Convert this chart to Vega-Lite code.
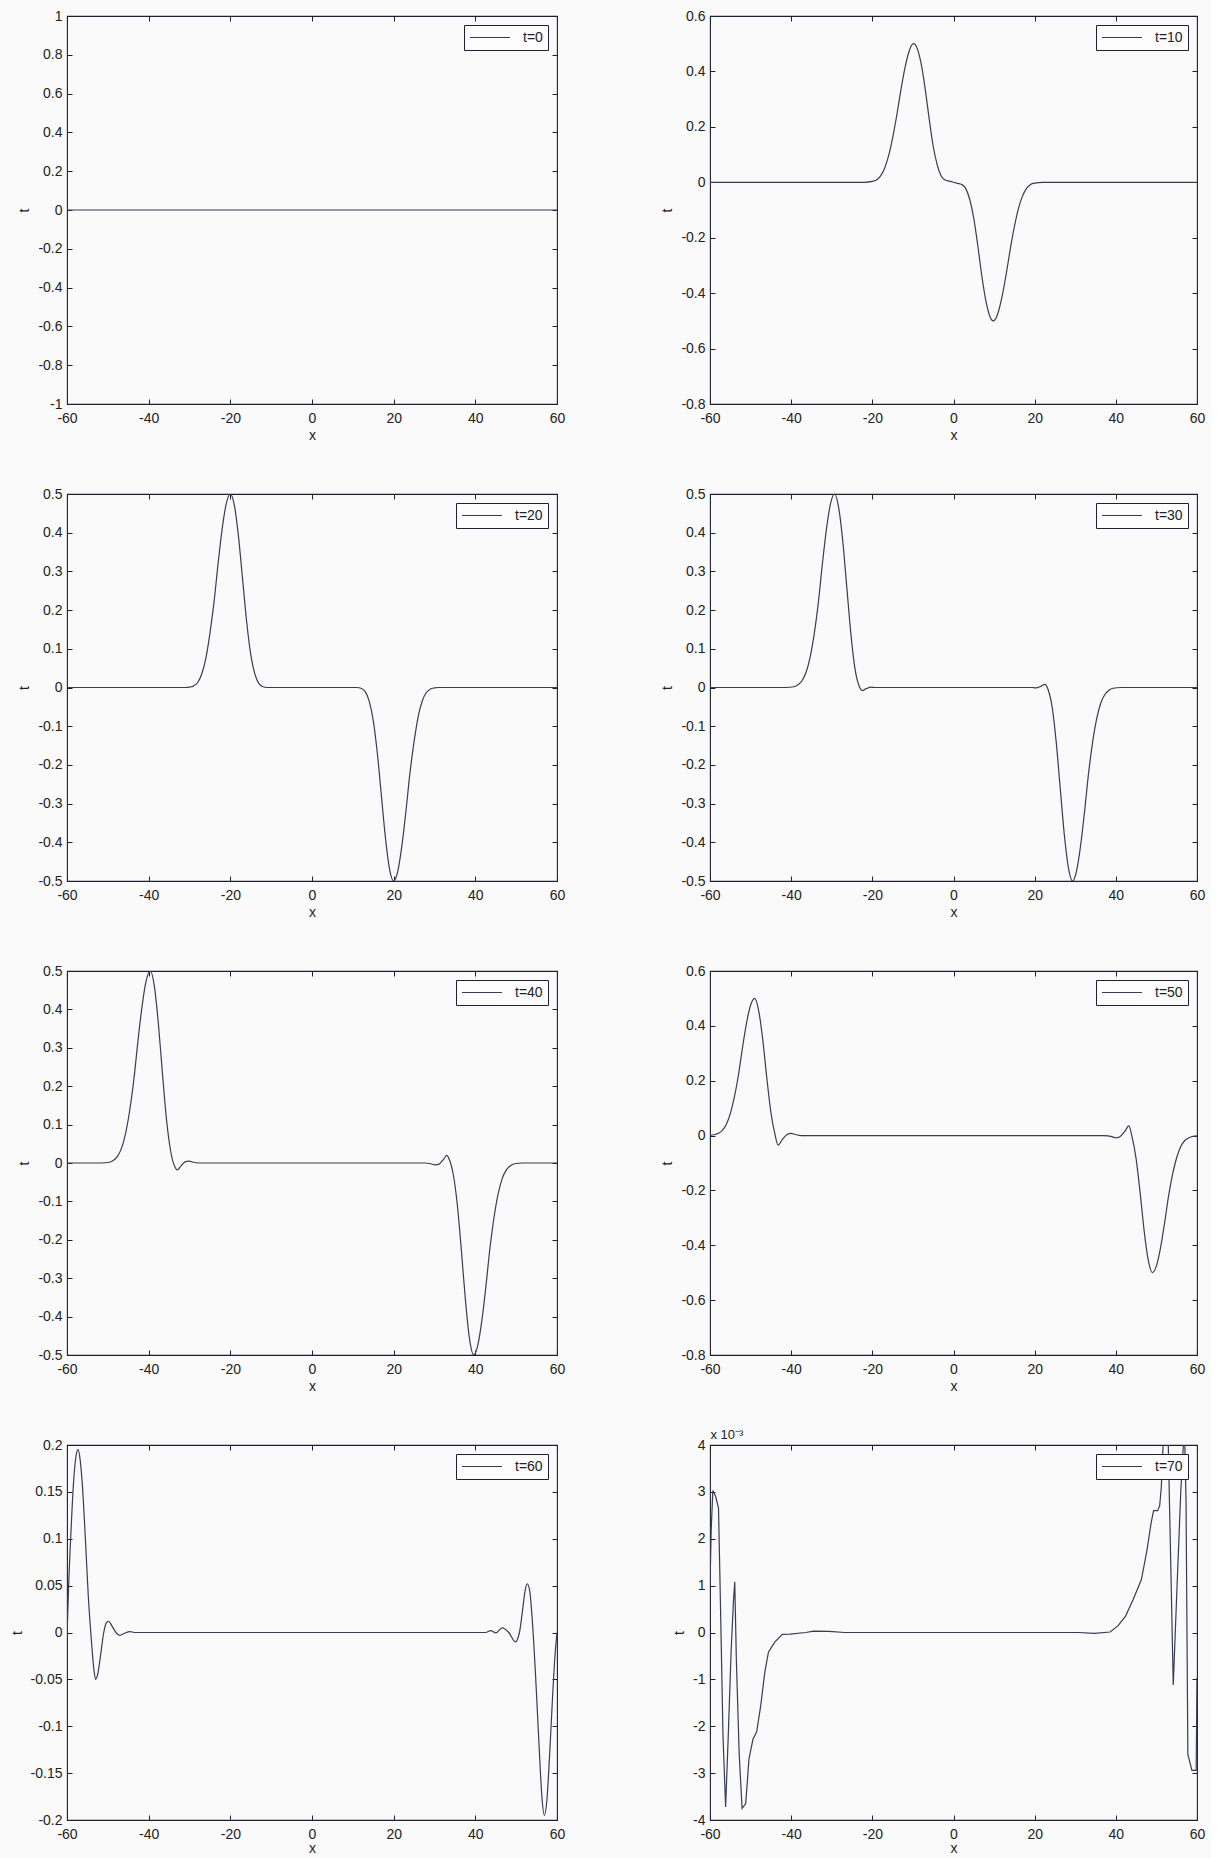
{
  "$schema": "https://vega.github.io/schema/vega-lite/v6.json",
  "background": "#fafafa",
  "padding": {"left": 9, "top": 8, "right": 5, "bottom": 2},
  "columns": 2,
  "spacing": {"row": 90, "column": 153},
  "bounds": "flush",
  "resolve": {"scale": {"color": "independent"}, "legend": {"color": "independent"}},
  "data": {"values": [
    {"p":"t=0","x":-60,"y":0},{"p":"t=0","x":0,"y":0},{"p":"t=0","x":60,"y":0},

    {"p":"t=10","x":-60,"y":0},{"p":"t=10","x":-22,"y":0},{"p":"t=10","x":-20,"y":0.003},{"p":"t=10","x":-19,"y":0.008},{"p":"t=10","x":-18,"y":0.022},{"p":"t=10","x":-17,"y":0.05},{"p":"t=10","x":-16,"y":0.095},{"p":"t=10","x":-15,"y":0.16},{"p":"t=10","x":-14,"y":0.24},{"p":"t=10","x":-13,"y":0.33},{"p":"t=10","x":-12,"y":0.41},{"p":"t=10","x":-11,"y":0.47},{"p":"t=10","x":-10.5,"y":0.49},{"p":"t=10","x":-9.8,"y":0.5},{"p":"t=10","x":-9,"y":0.485},{"p":"t=10","x":-8,"y":0.43},{"p":"t=10","x":-7,"y":0.34},{"p":"t=10","x":-6,"y":0.23},{"p":"t=10","x":-5,"y":0.13},{"p":"t=10","x":-4,"y":0.062},{"p":"t=10","x":-3,"y":0.022},{"p":"t=10","x":-2,"y":0.008},{"p":"t=10","x":-1,"y":0.004},{"p":"t=10","x":0,"y":0},{"p":"t=10","x":1,"y":-0.004},{"p":"t=10","x":2,"y":-0.008},{"p":"t=10","x":3,"y":-0.022},{"p":"t=10","x":4,"y":-0.062},{"p":"t=10","x":5,"y":-0.13},{"p":"t=10","x":6,"y":-0.23},{"p":"t=10","x":7,"y":-0.34},{"p":"t=10","x":8,"y":-0.43},{"p":"t=10","x":9,"y":-0.485},{"p":"t=10","x":9.8,"y":-0.5},{"p":"t=10","x":10.5,"y":-0.49},{"p":"t=10","x":11,"y":-0.47},{"p":"t=10","x":12,"y":-0.41},{"p":"t=10","x":13,"y":-0.33},{"p":"t=10","x":14,"y":-0.24},{"p":"t=10","x":15,"y":-0.16},{"p":"t=10","x":16,"y":-0.095},{"p":"t=10","x":17,"y":-0.05},{"p":"t=10","x":18,"y":-0.022},{"p":"t=10","x":19,"y":-0.008},{"p":"t=10","x":20,"y":-0.003},{"p":"t=10","x":22,"y":0},{"p":"t=10","x":60,"y":0},

    {"p":"t=20","x":-60,"y":0},{"p":"t=20","x":-31,"y":0},{"p":"t=20","x":-30,"y":0.001},{"p":"t=20","x":-29,"y":0.004},{"p":"t=20","x":-28,"y":0.013},{"p":"t=20","x":-27,"y":0.035},{"p":"t=20","x":-26,"y":0.075},{"p":"t=20","x":-25,"y":0.14},{"p":"t=20","x":-24,"y":0.22},{"p":"t=20","x":-23,"y":0.32},{"p":"t=20","x":-22,"y":0.41},{"p":"t=20","x":-21,"y":0.475},{"p":"t=20","x":-20,"y":0.5},{"p":"t=20","x":-19,"y":0.47},{"p":"t=20","x":-18,"y":0.39},{"p":"t=20","x":-17,"y":0.28},{"p":"t=20","x":-16,"y":0.17},{"p":"t=20","x":-15,"y":0.085},{"p":"t=20","x":-14,"y":0.035},{"p":"t=20","x":-13,"y":0.01},{"p":"t=20","x":-12,"y":0.002},{"p":"t=20","x":-11,"y":0},{"p":"t=20","x":11,"y":0},{"p":"t=20","x":12,"y":-0.002},{"p":"t=20","x":13,"y":-0.01},{"p":"t=20","x":14,"y":-0.035},{"p":"t=20","x":15,"y":-0.085},{"p":"t=20","x":16,"y":-0.17},{"p":"t=20","x":17,"y":-0.28},{"p":"t=20","x":18,"y":-0.39},{"p":"t=20","x":19,"y":-0.47},{"p":"t=20","x":20,"y":-0.5},{"p":"t=20","x":21,"y":-0.475},{"p":"t=20","x":22,"y":-0.41},{"p":"t=20","x":23,"y":-0.32},{"p":"t=20","x":24,"y":-0.22},{"p":"t=20","x":25,"y":-0.14},{"p":"t=20","x":26,"y":-0.075},{"p":"t=20","x":27,"y":-0.035},{"p":"t=20","x":28,"y":-0.013},{"p":"t=20","x":29,"y":-0.004},{"p":"t=20","x":30,"y":-0.001},{"p":"t=20","x":31,"y":0},{"p":"t=20","x":60,"y":0},

    {"p":"t=30","x":-60,"y":0},{"p":"t=30","x":-41.3,"y":0},{"p":"t=30","x":-39.3,"y":0.002},{"p":"t=30","x":-38.3,"y":0.007},{"p":"t=30","x":-37.3,"y":0.018},{"p":"t=30","x":-36.3,"y":0.04},{"p":"t=30","x":-35.3,"y":0.08},{"p":"t=30","x":-34.3,"y":0.14},{"p":"t=30","x":-33.3,"y":0.22},{"p":"t=30","x":-32.3,"y":0.32},{"p":"t=30","x":-31.3,"y":0.41},{"p":"t=30","x":-30.3,"y":0.475},{"p":"t=30","x":-29.3,"y":0.5},{"p":"t=30","x":-28.3,"y":0.465},{"p":"t=30","x":-27.3,"y":0.38},{"p":"t=30","x":-26.3,"y":0.26},{"p":"t=30","x":-25.3,"y":0.14},{"p":"t=30","x":-24.3,"y":0.05},{"p":"t=30","x":-23.3,"y":0.005},{"p":"t=30","x":-22.5,"y":-0.008},{"p":"t=30","x":-21.5,"y":-0.003},{"p":"t=30","x":-20.3,"y":0.001},{"p":"t=30","x":-19.3,"y":0},{"p":"t=30","x":19.3,"y":0},{"p":"t=30","x":20.3,"y":-0.001},{"p":"t=30","x":21.5,"y":0.003},{"p":"t=30","x":22.5,"y":0.008},{"p":"t=30","x":23.3,"y":-0.005},{"p":"t=30","x":24.3,"y":-0.05},{"p":"t=30","x":25.3,"y":-0.14},{"p":"t=30","x":26.3,"y":-0.26},{"p":"t=30","x":27.3,"y":-0.38},{"p":"t=30","x":28.3,"y":-0.465},{"p":"t=30","x":29.3,"y":-0.5},{"p":"t=30","x":30.3,"y":-0.475},{"p":"t=30","x":31.3,"y":-0.41},{"p":"t=30","x":32.3,"y":-0.32},{"p":"t=30","x":33.3,"y":-0.22},{"p":"t=30","x":34.3,"y":-0.14},{"p":"t=30","x":35.3,"y":-0.08},{"p":"t=30","x":36.3,"y":-0.04},{"p":"t=30","x":37.3,"y":-0.018},{"p":"t=30","x":38.3,"y":-0.007},{"p":"t=30","x":39.3,"y":-0.002},{"p":"t=30","x":41.3,"y":0},{"p":"t=30","x":60,"y":0},

    {"p":"t=40","x":-60,"y":0},{"p":"t=40","x":-51.6,"y":0},{"p":"t=40","x":-49.6,"y":0.002},{"p":"t=40","x":-48.6,"y":0.007},{"p":"t=40","x":-47.6,"y":0.018},{"p":"t=40","x":-46.6,"y":0.04},{"p":"t=40","x":-45.6,"y":0.08},{"p":"t=40","x":-44.6,"y":0.14},{"p":"t=40","x":-43.6,"y":0.22},{"p":"t=40","x":-42.6,"y":0.32},{"p":"t=40","x":-41.6,"y":0.41},{"p":"t=40","x":-40.6,"y":0.475},{"p":"t=40","x":-39.6,"y":0.5},{"p":"t=40","x":-38.6,"y":0.46},{"p":"t=40","x":-37.6,"y":0.36},{"p":"t=40","x":-36.6,"y":0.23},{"p":"t=40","x":-35.6,"y":0.11},{"p":"t=40","x":-34.6,"y":0.03},{"p":"t=40","x":-33.6,"y":-0.01},{"p":"t=40","x":-33,"y":-0.018},{"p":"t=40","x":-32.1,"y":-0.008},{"p":"t=40","x":-31.1,"y":0.003},{"p":"t=40","x":-30.1,"y":0.005},{"p":"t=40","x":-29.1,"y":0.002},{"p":"t=40","x":-27.6,"y":0},{"p":"t=40","x":27.6,"y":0},{"p":"t=40","x":29.1,"y":-0.002},{"p":"t=40","x":30.1,"y":-0.005},{"p":"t=40","x":31.1,"y":-0.003},{"p":"t=40","x":32.1,"y":0.008},{"p":"t=40","x":33,"y":0.02},{"p":"t=40","x":33.6,"y":0.01},{"p":"t=40","x":34.6,"y":-0.03},{"p":"t=40","x":35.6,"y":-0.11},{"p":"t=40","x":36.6,"y":-0.23},{"p":"t=40","x":37.6,"y":-0.36},{"p":"t=40","x":38.6,"y":-0.46},{"p":"t=40","x":39.6,"y":-0.5},{"p":"t=40","x":40.6,"y":-0.475},{"p":"t=40","x":41.6,"y":-0.41},{"p":"t=40","x":42.6,"y":-0.32},{"p":"t=40","x":43.6,"y":-0.22},{"p":"t=40","x":44.6,"y":-0.14},{"p":"t=40","x":45.6,"y":-0.08},{"p":"t=40","x":46.6,"y":-0.04},{"p":"t=40","x":47.6,"y":-0.018},{"p":"t=40","x":48.6,"y":-0.007},{"p":"t=40","x":49.6,"y":-0.002},{"p":"t=40","x":51.6,"y":0},{"p":"t=40","x":60,"y":0},

    {"p":"t=50","x":-60,"y":0.001},{"p":"t=50","x":-59,"y":0.003},{"p":"t=50","x":-58,"y":0.008},{"p":"t=50","x":-57,"y":0.018},{"p":"t=50","x":-56,"y":0.04},{"p":"t=50","x":-55,"y":0.08},{"p":"t=50","x":-54,"y":0.14},{"p":"t=50","x":-53,"y":0.22},{"p":"t=50","x":-52,"y":0.32},{"p":"t=50","x":-51,"y":0.41},{"p":"t=50","x":-50,"y":0.475},{"p":"t=50","x":-49,"y":0.5},{"p":"t=50","x":-48,"y":0.455},{"p":"t=50","x":-47,"y":0.35},{"p":"t=50","x":-46,"y":0.21},{"p":"t=50","x":-45,"y":0.085},{"p":"t=50","x":-44,"y":0.005},{"p":"t=50","x":-43.2,"y":-0.035},{"p":"t=50","x":-42.2,"y":-0.015},{"p":"t=50","x":-41,"y":0.004},{"p":"t=50","x":-40,"y":0.008},{"p":"t=50","x":-39,"y":0.004},{"p":"t=50","x":-38,"y":0.001},{"p":"t=50","x":-37,"y":0},{"p":"t=50","x":37,"y":0},{"p":"t=50","x":38,"y":-0.001},{"p":"t=50","x":39,"y":-0.004},{"p":"t=50","x":40,"y":-0.008},{"p":"t=50","x":41,"y":-0.004},{"p":"t=50","x":42.2,"y":0.015},{"p":"t=50","x":43.2,"y":0.035},{"p":"t=50","x":44,"y":-0.005},{"p":"t=50","x":45,"y":-0.085},{"p":"t=50","x":46,"y":-0.21},{"p":"t=50","x":47,"y":-0.35},{"p":"t=50","x":48,"y":-0.455},{"p":"t=50","x":49,"y":-0.5},{"p":"t=50","x":50,"y":-0.475},{"p":"t=50","x":51,"y":-0.41},{"p":"t=50","x":52,"y":-0.32},{"p":"t=50","x":53,"y":-0.22},{"p":"t=50","x":54,"y":-0.14},{"p":"t=50","x":55,"y":-0.08},{"p":"t=50","x":56,"y":-0.04},{"p":"t=50","x":57,"y":-0.018},{"p":"t=50","x":58,"y":-0.008},{"p":"t=50","x":59,"y":-0.003},{"p":"t=50","x":60,"y":-0.001},

    {"p":"t=60","x":-60,"y":-0.005},{"p":"t=60","x":-59.6,"y":0.05},{"p":"t=60","x":-59,"y":0.11},{"p":"t=60","x":-58.4,"y":0.16},{"p":"t=60","x":-57.8,"y":0.188},{"p":"t=60","x":-57.3,"y":0.195},{"p":"t=60","x":-56.8,"y":0.185},{"p":"t=60","x":-56.2,"y":0.155},{"p":"t=60","x":-55.5,"y":0.1},{"p":"t=60","x":-54.8,"y":0.04},{"p":"t=60","x":-54,"y":-0.01},{"p":"t=60","x":-53.4,"y":-0.04},{"p":"t=60","x":-53,"y":-0.05},{"p":"t=60","x":-52.5,"y":-0.045},{"p":"t=60","x":-51.8,"y":-0.025},{"p":"t=60","x":-51,"y":0},{"p":"t=60","x":-50.4,"y":0.01},{"p":"t=60","x":-49.8,"y":0.012},{"p":"t=60","x":-49,"y":0.007},{"p":"t=60","x":-48,"y":0},{"p":"t=60","x":-47.1,"y":-0.003},{"p":"t=60","x":-46,"y":-0.001},{"p":"t=60","x":-44.6,"y":0.001},{"p":"t=60","x":-43.5,"y":0},{"p":"t=60","x":42.5,"y":0},{"p":"t=60","x":43.8,"y":0.002},{"p":"t=60","x":45,"y":-0.0005},{"p":"t=60","x":46.6,"y":0.005},{"p":"t=60","x":48.2,"y":0},{"p":"t=60","x":49.8,"y":-0.01},{"p":"t=60","x":50.8,"y":0},{"p":"t=60","x":51.6,"y":0.025},{"p":"t=60","x":52.2,"y":0.045},{"p":"t=60","x":52.7,"y":0.052},{"p":"t=60","x":53.3,"y":0.045},{"p":"t=60","x":54,"y":0.01},{"p":"t=60","x":54.8,"y":-0.05},{"p":"t=60","x":55.6,"y":-0.12},{"p":"t=60","x":56.3,"y":-0.175},{"p":"t=60","x":56.9,"y":-0.195},{"p":"t=60","x":57.5,"y":-0.18},{"p":"t=60","x":58.2,"y":-0.13},{"p":"t=60","x":58.9,"y":-0.07},{"p":"t=60","x":59.5,"y":-0.025},{"p":"t=60","x":60,"y":0},

    {"p":"t=70","x":-60,"y":0.001},{"p":"t=70","x":-59.7,"y":0.0022},{"p":"t=70","x":-59.3,"y":0.00303},{"p":"t=70","x":-58.6,"y":0.0029},{"p":"t=70","x":-57.9,"y":0.00265},{"p":"t=70","x":-57.4,"y":0.0005},{"p":"t=70","x":-56.8,"y":-0.0022},{"p":"t=70","x":-56.15,"y":-0.00372},{"p":"t=70","x":-55.5,"y":-0.0022},{"p":"t=70","x":-54.8,"y":-0.0004},{"p":"t=70","x":-54.2,"y":0.0007},{"p":"t=70","x":-53.9,"y":0.00108},{"p":"t=70","x":-53.5,"y":-0.0006},{"p":"t=70","x":-52.8,"y":-0.0026},{"p":"t=70","x":-52.1,"y":-0.00375},{"p":"t=70","x":-51.2,"y":-0.00365},{"p":"t=70","x":-50.4,"y":-0.0027},{"p":"t=70","x":-49.4,"y":-0.00227},{"p":"t=70","x":-48.5,"y":-0.00212},{"p":"t=70","x":-47.5,"y":-0.00156},{"p":"t=70","x":-46.5,"y":-0.00085},{"p":"t=70","x":-45.6,"y":-0.00042},{"p":"t=70","x":-44.1,"y":-0.00021},{"p":"t=70","x":-42.2,"y":-0.00004},{"p":"t=70","x":-40.3,"y":-0.000035},{"p":"t=70","x":-36.4,"y":0},{"p":"t=70","x":-34.5,"y":0.00003},{"p":"t=70","x":-30.7,"y":0.000025},{"p":"t=70","x":-26.8,"y":0},{"p":"t=70","x":30.9,"y":0},{"p":"t=70","x":34.7,"y":-0.00002},{"p":"t=70","x":38.6,"y":0.00001},{"p":"t=70","x":40.5,"y":0.00014},{"p":"t=70","x":42.4,"y":0.00035},{"p":"t=70","x":44.3,"y":0.00071},{"p":"t=70","x":46.3,"y":0.00113},{"p":"t=70","x":47.7,"y":0.00177},{"p":"t=70","x":48.7,"y":0.00234},{"p":"t=70","x":49.3,"y":0.0026},{"p":"t=70","x":50.3,"y":0.0026},{"p":"t=70","x":50.8,"y":0.0027},{"p":"t=70","x":51.2,"y":0.0031},{"p":"t=70","x":51.6,"y":0.0039},{"p":"t=70","x":52.2,"y":0.005},{"p":"t=70","x":52.9,"y":0.0041},{"p":"t=70","x":53.5,"y":0.0016},{"p":"t=70","x":54.15,"y":-0.00112},{"p":"t=70","x":55,"y":0.0008},{"p":"t=70","x":56,"y":0.003},{"p":"t=70","x":56.9,"y":0.0044},{"p":"t=70","x":57.3,"y":0.0028},{"p":"t=70","x":57.75,"y":-0.0026},{"p":"t=70","x":58.75,"y":-0.00294},{"p":"t=70","x":59.8,"y":-0.00294},{"p":"t=70","x":60,"y":-0.00097}
  ]},
  "concat": [
    {
      "width": 490, "height": 388,
      "transform": [{"filter": {"field": "p", "equal": "t=0"}}],
      "layer": [
        {"mark": {"type": "line", "clip": true, "interpolate": "monotone"},
         "encoding": {
           "x": {"field": "x", "type": "quantitative", "scale": {"domain": [-60, 60], "nice": false, "zero": false}, "axis": {"values": [-60,-40,-20,0,20,40,60], "title": "x", "labelExpr": "replace(format(datum.value,'~g'),'\u2212','-')"}},
           "y": {"field": "y", "type": "quantitative", "scale": {"domain": [-1, 1], "nice": false, "zero": false}, "axis": {"values": [-1,-0.8,-0.6,-0.4,-0.2,0,0.2,0.4,0.6,0.8,1], "title": "t", "labelExpr": "replace(format(datum.value,'~g'),'\u2212','-')"}},
           "color": {"field": "p", "type": "nominal", "scale": {"range": ["#3a3a55"]}, "legend": {"title": null}}
         }},
        {"mark": {"type": "line", "strokeOpacity": 0},
         "encoding": {
           "x": {"field": "x", "type": "quantitative", "scale": {"domain": [-60, 60], "nice": false, "zero": false}, "axis": {"orient": "top", "values": [-60,-40,-20,0,20,40,60], "labels": false, "title": null}},
           "y": {"field": "y", "type": "quantitative", "scale": {"domain": [-1, 1], "nice": false, "zero": false}, "axis": {"orient": "right", "values": [-1,-0.8,-0.6,-0.4,-0.2,0,0.2,0.4,0.6,0.8,1], "labels": false, "title": null}}
         }}
      ],
      "resolve": {"axis": {"x": "independent", "y": "independent"}}
    },
    {
      "width": 487, "height": 388,
      "transform": [{"filter": {"field": "p", "equal": "t=10"}}],
      "layer": [
        {"mark": {"type": "line", "clip": true, "interpolate": "monotone"},
         "encoding": {
           "x": {"field": "x", "type": "quantitative", "scale": {"domain": [-60, 60], "nice": false, "zero": false}, "axis": {"values": [-60,-40,-20,0,20,40,60], "title": "x", "labelExpr": "replace(format(datum.value,'~g'),'\u2212','-')"}},
           "y": {"field": "y", "type": "quantitative", "scale": {"domain": [-0.8, 0.6], "nice": false, "zero": false}, "axis": {"values": [-0.8,-0.6,-0.4,-0.2,0,0.2,0.4,0.6], "title": "t", "labelExpr": "replace(format(datum.value,'~g'),'\u2212','-')"}},
           "color": {"field": "p", "type": "nominal", "scale": {"range": ["#3a3a55"]}, "legend": {"title": null}}
         }},
        {"mark": {"type": "line", "strokeOpacity": 0},
         "encoding": {
           "x": {"field": "x", "type": "quantitative", "scale": {"domain": [-60, 60], "nice": false, "zero": false}, "axis": {"orient": "top", "values": [-60,-40,-20,0,20,40,60], "labels": false, "title": null}},
           "y": {"field": "y", "type": "quantitative", "scale": {"domain": [-0.8, 0.6], "nice": false, "zero": false}, "axis": {"orient": "right", "values": [-0.8,-0.6,-0.4,-0.2,0,0.2,0.4,0.6], "labels": false, "title": null}}
         }}
      ],
      "resolve": {"axis": {"x": "independent", "y": "independent"}}
    },
    {
      "width": 490, "height": 387,
      "transform": [{"filter": {"field": "p", "equal": "t=20"}}],
      "layer": [
        {"mark": {"type": "line", "clip": true, "interpolate": "monotone"},
         "encoding": {
           "x": {"field": "x", "type": "quantitative", "scale": {"domain": [-60, 60], "nice": false, "zero": false}, "axis": {"values": [-60,-40,-20,0,20,40,60], "title": "x", "labelExpr": "replace(format(datum.value,'~g'),'\u2212','-')"}},
           "y": {"field": "y", "type": "quantitative", "scale": {"domain": [-0.5, 0.5], "nice": false, "zero": false}, "axis": {"values": [-0.5,-0.4,-0.3,-0.2,-0.1,0,0.1,0.2,0.3,0.4,0.5], "title": "t", "labelExpr": "replace(format(datum.value,'~g'),'\u2212','-')"}},
           "color": {"field": "p", "type": "nominal", "scale": {"range": ["#3a3a55"]}, "legend": {"title": null}}
         }},
        {"mark": {"type": "line", "strokeOpacity": 0},
         "encoding": {
           "x": {"field": "x", "type": "quantitative", "scale": {"domain": [-60, 60], "nice": false, "zero": false}, "axis": {"orient": "top", "values": [-60,-40,-20,0,20,40,60], "labels": false, "title": null}},
           "y": {"field": "y", "type": "quantitative", "scale": {"domain": [-0.5, 0.5], "nice": false, "zero": false}, "axis": {"orient": "right", "values": [-0.5,-0.4,-0.3,-0.2,-0.1,0,0.1,0.2,0.3,0.4,0.5], "labels": false, "title": null}}
         }}
      ],
      "resolve": {"axis": {"x": "independent", "y": "independent"}}
    },
    {
      "width": 487, "height": 387,
      "transform": [{"filter": {"field": "p", "equal": "t=30"}}],
      "layer": [
        {"mark": {"type": "line", "clip": true, "interpolate": "monotone"},
         "encoding": {
           "x": {"field": "x", "type": "quantitative", "scale": {"domain": [-60, 60], "nice": false, "zero": false}, "axis": {"values": [-60,-40,-20,0,20,40,60], "title": "x", "labelExpr": "replace(format(datum.value,'~g'),'\u2212','-')"}},
           "y": {"field": "y", "type": "quantitative", "scale": {"domain": [-0.5, 0.5], "nice": false, "zero": false}, "axis": {"values": [-0.5,-0.4,-0.3,-0.2,-0.1,0,0.1,0.2,0.3,0.4,0.5], "title": "t", "labelExpr": "replace(format(datum.value,'~g'),'\u2212','-')"}},
           "color": {"field": "p", "type": "nominal", "scale": {"range": ["#3a3a55"]}, "legend": {"title": null}}
         }},
        {"mark": {"type": "line", "strokeOpacity": 0},
         "encoding": {
           "x": {"field": "x", "type": "quantitative", "scale": {"domain": [-60, 60], "nice": false, "zero": false}, "axis": {"orient": "top", "values": [-60,-40,-20,0,20,40,60], "labels": false, "title": null}},
           "y": {"field": "y", "type": "quantitative", "scale": {"domain": [-0.5, 0.5], "nice": false, "zero": false}, "axis": {"orient": "right", "values": [-0.5,-0.4,-0.3,-0.2,-0.1,0,0.1,0.2,0.3,0.4,0.5], "labels": false, "title": null}}
         }}
      ],
      "resolve": {"axis": {"x": "independent", "y": "independent"}}
    },
    {
      "width": 490, "height": 384,
      "transform": [{"filter": {"field": "p", "equal": "t=40"}}],
      "layer": [
        {"mark": {"type": "line", "clip": true, "interpolate": "monotone"},
         "encoding": {
           "x": {"field": "x", "type": "quantitative", "scale": {"domain": [-60, 60], "nice": false, "zero": false}, "axis": {"values": [-60,-40,-20,0,20,40,60], "title": "x", "labelExpr": "replace(format(datum.value,'~g'),'\u2212','-')"}},
           "y": {"field": "y", "type": "quantitative", "scale": {"domain": [-0.5, 0.5], "nice": false, "zero": false}, "axis": {"values": [-0.5,-0.4,-0.3,-0.2,-0.1,0,0.1,0.2,0.3,0.4,0.5], "title": "t", "labelExpr": "replace(format(datum.value,'~g'),'\u2212','-')"}},
           "color": {"field": "p", "type": "nominal", "scale": {"range": ["#3a3a55"]}, "legend": {"title": null}}
         }},
        {"mark": {"type": "line", "strokeOpacity": 0},
         "encoding": {
           "x": {"field": "x", "type": "quantitative", "scale": {"domain": [-60, 60], "nice": false, "zero": false}, "axis": {"orient": "top", "values": [-60,-40,-20,0,20,40,60], "labels": false, "title": null}},
           "y": {"field": "y", "type": "quantitative", "scale": {"domain": [-0.5, 0.5], "nice": false, "zero": false}, "axis": {"orient": "right", "values": [-0.5,-0.4,-0.3,-0.2,-0.1,0,0.1,0.2,0.3,0.4,0.5], "labels": false, "title": null}}
         }}
      ],
      "resolve": {"axis": {"x": "independent", "y": "independent"}}
    },
    {
      "width": 487, "height": 384,
      "transform": [{"filter": {"field": "p", "equal": "t=50"}}],
      "layer": [
        {"mark": {"type": "line", "clip": true, "interpolate": "monotone"},
         "encoding": {
           "x": {"field": "x", "type": "quantitative", "scale": {"domain": [-60, 60], "nice": false, "zero": false}, "axis": {"values": [-60,-40,-20,0,20,40,60], "title": "x", "labelExpr": "replace(format(datum.value,'~g'),'\u2212','-')"}},
           "y": {"field": "y", "type": "quantitative", "scale": {"domain": [-0.8, 0.6], "nice": false, "zero": false}, "axis": {"values": [-0.8,-0.6,-0.4,-0.2,0,0.2,0.4,0.6], "title": "t", "labelExpr": "replace(format(datum.value,'~g'),'\u2212','-')"}},
           "color": {"field": "p", "type": "nominal", "scale": {"range": ["#3a3a55"]}, "legend": {"title": null}}
         }},
        {"mark": {"type": "line", "strokeOpacity": 0},
         "encoding": {
           "x": {"field": "x", "type": "quantitative", "scale": {"domain": [-60, 60], "nice": false, "zero": false}, "axis": {"orient": "top", "values": [-60,-40,-20,0,20,40,60], "labels": false, "title": null}},
           "y": {"field": "y", "type": "quantitative", "scale": {"domain": [-0.8, 0.6], "nice": false, "zero": false}, "axis": {"orient": "right", "values": [-0.8,-0.6,-0.4,-0.2,0,0.2,0.4,0.6], "labels": false, "title": null}}
         }}
      ],
      "resolve": {"axis": {"x": "independent", "y": "independent"}}
    },
    {
      "width": 490, "height": 375,
      "transform": [{"filter": {"field": "p", "equal": "t=60"}}],
      "layer": [
        {"mark": {"type": "line", "clip": true, "interpolate": "monotone"},
         "encoding": {
           "x": {"field": "x", "type": "quantitative", "scale": {"domain": [-60, 60], "nice": false, "zero": false}, "axis": {"values": [-60,-40,-20,0,20,40,60], "title": "x", "titlePadding": 0, "labelExpr": "replace(format(datum.value,'~g'),'\u2212','-')"}},
           "y": {"field": "y", "type": "quantitative", "scale": {"domain": [-0.2, 0.2], "nice": false, "zero": false}, "axis": {"values": [-0.2,-0.15,-0.1,-0.05,0,0.05,0.1,0.15,0.2], "title": "t", "labelExpr": "replace(format(datum.value,'~g'),'\u2212','-')"}},
           "color": {"field": "p", "type": "nominal", "scale": {"range": ["#3a3a55"]}, "legend": {"title": null}}
         }},
        {"mark": {"type": "line", "strokeOpacity": 0},
         "encoding": {
           "x": {"field": "x", "type": "quantitative", "scale": {"domain": [-60, 60], "nice": false, "zero": false}, "axis": {"orient": "top", "values": [-60,-40,-20,0,20,40,60], "labels": false, "title": null}},
           "y": {"field": "y", "type": "quantitative", "scale": {"domain": [-0.2, 0.2], "nice": false, "zero": false}, "axis": {"orient": "right", "values": [-0.2,-0.15,-0.1,-0.05,0,0.05,0.1,0.15,0.2], "labels": false, "title": null}}
         }}
      ],
      "resolve": {"axis": {"x": "independent", "y": "independent"}}
    },
    {
      "width": 487, "height": 375,
      "transform": [{"filter": {"field": "p", "equal": "t=70"}}],
      "layer": [
        {"mark": {"type": "line", "clip": true, "interpolate": "linear"},
         "encoding": {
           "x": {"field": "x", "type": "quantitative", "scale": {"domain": [-60, 60], "nice": false, "zero": false}, "axis": {"values": [-60,-40,-20,0,20,40,60], "title": "x", "titlePadding": 0, "labelExpr": "replace(format(datum.value,'~g'),'\u2212','-')"}},
           "y": {"field": "y", "type": "quantitative", "scale": {"domain": [-0.004, 0.004], "nice": false, "zero": false}, "axis": {"values": [-0.004,-0.003,-0.002,-0.001,0,0.001,0.002,0.003,0.004], "title": "t", "labelExpr": "replace(format(datum.value*1000,'~g'),'\u2212','-')"}},
           "color": {"field": "p", "type": "nominal", "scale": {"range": ["#3a3a55"]}, "legend": {"title": null}}
         }},
        {"mark": {"type": "line", "strokeOpacity": 0},
         "encoding": {
           "x": {"field": "x", "type": "quantitative", "scale": {"domain": [-60, 60], "nice": false, "zero": false}, "axis": {"orient": "top", "values": [-60,-40,-20,0,20,40,60], "labels": false, "title": "x 10⁻³", "titleAnchor": "start", "titleAlign": "left", "titleFontSize": 13, "titlePadding": 3}},
           "y": {"field": "y", "type": "quantitative", "scale": {"domain": [-0.004, 0.004], "nice": false, "zero": false}, "axis": {"orient": "right", "values": [-0.004,-0.003,-0.002,-0.001,0,0.001,0.002,0.003,0.004], "labels": false, "title": null}}
         }}
      ],
      "resolve": {"axis": {"x": "independent", "y": "independent"}}
    }
  ],
  "config": {
    "font": "Liberation Sans",
    "view": {"stroke": "#1f1f33", "strokeWidth": 1.1},
    "line": {"strokeWidth": 1.2},
    "axis": {
      "labelFont": "Liberation Sans", "labelFontSize": 14, "labelColor": "#222222",
      "titleFont": "Liberation Sans", "titleFontSize": 14, "titleFontWeight": "normal", "titleColor": "#222222",
      "tickColor": "#1f1f33", "tickSize": -5, "tickWidth": 1,
      "domain": false, "grid": false, "labelPadding": 10, "labelFlush": false, "labelOverlap": false,
      "titlePadding": 6
    },
    "axisX": {"labelPadding": 12, "titlePadding": 3},
    "legend": {
      "orient": "top-right", "offset": 9, "padding": 5,
      "strokeColor": "#1f1f33", "strokeWidth": 1, "fillColor": "#fcfcfc",
      "symbolType": "stroke", "symbolSize": 1600, "symbolStrokeWidth": 1.2,
      "labelFont": "Liberation Sans", "labelFontSize": 14, "labelColor": "#222222",
      "labelOffset": 12, "clipHeight": 15
    }
  }
}
